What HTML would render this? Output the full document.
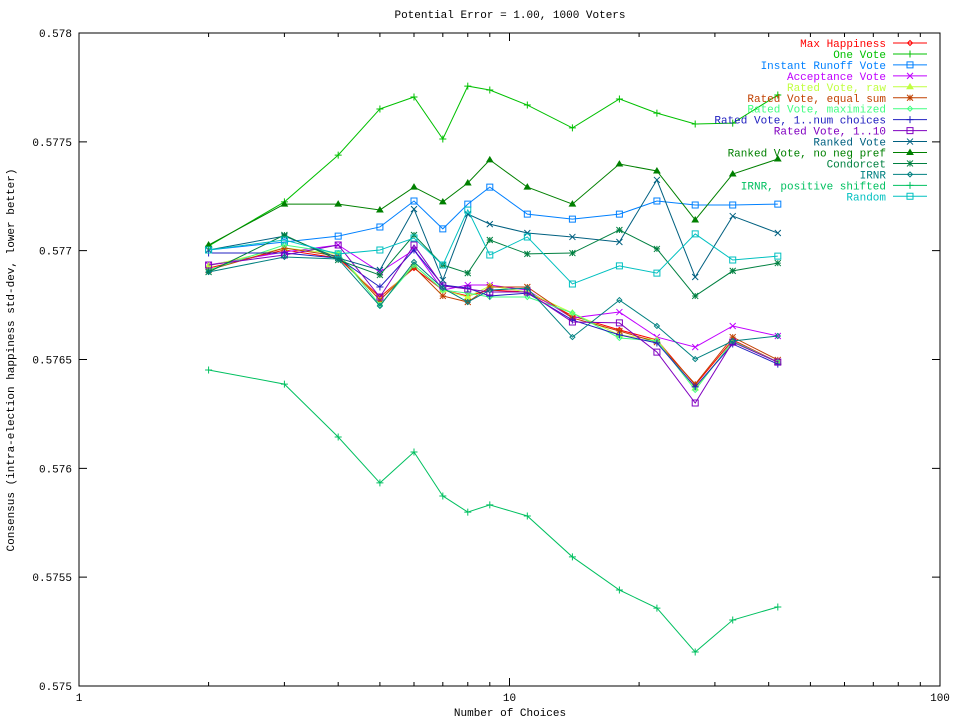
<!DOCTYPE html>
<html><head><meta charset="utf-8"><style>
body{margin:0;background:#fff;}
svg{display:block;font-family:"Liberation Mono","DejaVu Sans Mono",monospace;font-size:11px;}
</style></head><body>
<svg id="chart" width="960" height="720" xmlns="http://www.w3.org/2000/svg">
<rect width="960" height="720" fill="#fff"/>
<text x="510" y="18" text-anchor="middle">Potential Error = 1.00, 1000 Voters</text>
<text x="510" y="716" text-anchor="middle">Number of Choices</text>
<text transform="translate(14,360) rotate(-90)" text-anchor="middle">Consensus (intra-election happiness std-dev, lower better)</text>
<g id="axes"></g><g id="series"></g><g id="legend"></g>
<rect x="79" y="33" width="861" height="653" fill="none" stroke="#000" stroke-width="1"/>
</svg>
<script>
const xCats=[2,3,4,5,6,7,8,9,11,14,18,22,27,33,42];
const yTicks=[0.575,0.5755,0.576,0.5765,0.577,0.5775,0.578];
const yTickLabels=["0.575","0.5755","0.576","0.5765","0.577","0.5775","0.578"];
const xTicks=[1,10,100];
const xTickLabels=["1","10","100"];
const names=["Max Happiness","One Vote","Instant Runoff Vote","Acceptance Vote","Rated Vote, raw","Rated Vote, equal sum","Rated Vote, maximized","Rated Vote, 1..num choices","Rated Vote, 1..10","Ranked Vote","Ranked Vote, no neg pref","Condorcet","IRNR","IRNR, positive shifted","Random"];
const colors=["#ff0000","#00c000","#0080ff","#c000ff","#c0ff40","#c04000","#40ff80","#2020c0","#8000c0","#006080","#008000","#008040","#008080","#00c060","#00c0c0"];
const markers=["diamond","plus","square","x","triangle","star","diamond","plus","square","x","triangle","star","diamond","plus","square"];
// values (pixel readings converted into data units)
const px=v=>+(0.575+(686-v)/217.67*0.001).toFixed(6);
const sMax=[268,250,258,297,268,290,296,290,292,316,330,340,385,340,362].map(px);
const sOne=[246,202,155,109,97,139,86,90,105,128,99,113,124,123,95].map(px);
const sIRV=[250,242,236,227,201,229,204,187,214,219,214,201,205,205,204].map(px);
const sAcc=[265,252,245,272,250,290,285,285,290,318,312,337,347,326,336].map(px);
const sRaw=[266,248,254,300,265,290,297,286,292,313,335,340,388,342,362].map(px);
const sEq=[270,248,256,300,267,296,302,287,287,318,331,342,384,337,360].map(px);
const sMaxd=[270,245,253,305,265,290,293,297,297,313,338,341,390,341,362].map(px);
const sNum=[253,253,258,287,250,285,288,296,293,320,335,343,387,344,364].map(px);
const s10=[265,255,245,297,245,286,289,292,292,322,323,352,403,342,362].map(px);
const sRank=[250,236,258,270,209,280,214,224,233,237,242,180,277,216,233].map(px);
const sNoNeg=[245,204,204,210,187,202,183,160,187,204,164,171,220,174,159].map(px);
const sCond=[272,235,260,275,235,265,273,240,254,253,230,249,296,271,263].map(px);
const sIRNR=[272,257,259,306,262,288,302,290,288,337,300,326,359,341,336].map(px);
const sIRNRp=[370,384,437,483,452,496,512,505,516,557,590,608,652,620,607].map(px);
const sRand=[250,240,254,250,238,265,210,255,237,284,266,273,234,260,256].map(px);
const seriesVals=[sMax,sOne,sIRV,sAcc,sRaw,sEq,sMaxd,sNum,s10,sRank,sNoNeg,sCond,sIRNR,sIRNRp,sRand];

const L=79,R=940,T=33,B=686;
const X=v=>L+(Math.log10(v)-0)/2*(R-L);
const Y=v=>B-(v-0.575)/0.003*(B-T);
const NS="http://www.w3.org/2000/svg";
function mk(tag,attrs,parent){const e=document.createElementNS(NS,tag);for(const k in attrs)e.setAttribute(k,attrs[k]);parent.appendChild(e);return e;}
const axes=document.getElementById('axes');
yTicks.forEach((t,i)=>{
  const y=Y(t);
  const l=mk('path',{d:`M${L},${y}h8M${R},${y}h-8`,stroke:'#000'},axes);
  
  
  const tx=mk('text',{x:72,y:y+4,'text-anchor':'end'},axes);tx.textContent=yTickLabels[i];
  
  
});
xTicks.forEach((t,i)=>{
  const x=X(t);
  const l=mk('path',{d:`M${x},${B}v-8M${x},${T}v8`,stroke:'#000'},axes);
  
  
  const tx=mk('text',{x:x,y:B+15,'text-anchor':'middle'},axes);tx.textContent=xTickLabels[i];
  
  
});
for(let d=1;d<100;d*=10)for(let m=2;m<10;m++){
  const x=X(d*m);
  const l=mk('path',{d:`M${x},${B}v-4M${x},${T}v4`,stroke:'#000'},axes);
  
  
}
function marker(g,type,x,y,c){
  let d;
  if(type==='diamond')d=`M${x-2.5},${y}L${x},${y-2.5}L${x+2.5},${y}L${x},${y+2.5}Z`;
  else if(type==='plus')d=`M${x-3.5},${y}h7M${x},${y-3.5}v7`;
  else if(type==='square')d=`M${x-3},${y-3}h6v6h-6Z`;
  else if(type==='x')d=`M${x-3},${y-3}l6,6M${x-3},${y+3}l6,-6`;
  else if(type==='triangle')d=`M${x-3},${y+2}L${x},${y-3}L${x+3},${y+2}Z`;
  else d=`M${x-3},${y}h6M${x},${y-3}v6M${x-3},${y-3}l6,6M${x-3},${y+3}l6,-6`;
  const m=mk('path',{d:d,stroke:c,fill:type==='triangle'?c:'none','stroke-width':1},g);
  
  
}
const sg=document.getElementById('series'),lg=document.getElementById('legend');
seriesVals.forEach((vals,i)=>{
  const g=mk('g',{},sg);
  
  
  const pts=vals.map((v,j)=>[X(xCats[j]),Y(v)]);
  const ln=mk('polyline',{points:pts.map(p=>p.join(',')).join(' '),fill:'none',stroke:colors[i],'stroke-width':1},g);
  
  
  pts.forEach(p=>marker(g,markers[i],p[0],p[1],colors[i]));
  const ly=43+10.95*i;
  const e=mk('g',{},lg);
  
  
  const t=mk('text',{x:886,y:ly+4,'text-anchor':'end',fill:colors[i]},e);t.textContent=names[i];
  mk('path',{d:`M893,${ly}h34`,stroke:colors[i]},e);
  marker(e,markers[i],910,ly,colors[i]);
});
</script>
</body></html>
